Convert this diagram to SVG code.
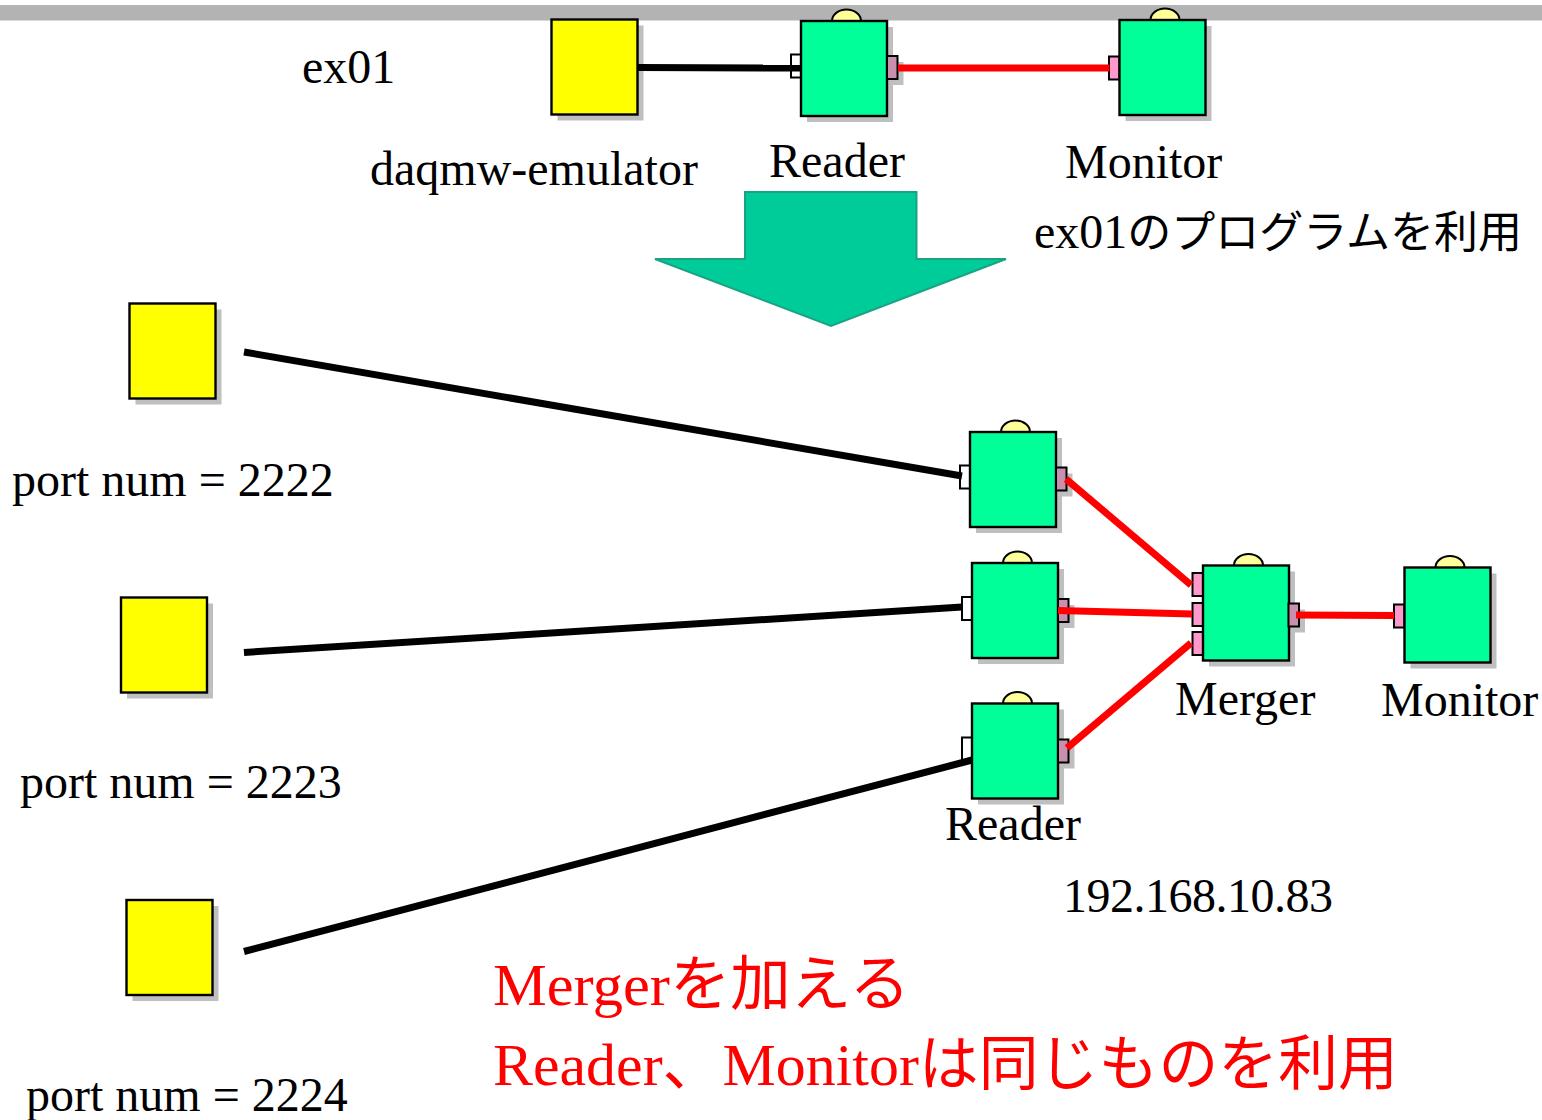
<svg xmlns="http://www.w3.org/2000/svg" xmlns:xlink="http://www.w3.org/1999/xlink" width="1542" height="1120" viewBox="0 0 1542 1120">
  <style>
    .box { stroke: #000; stroke-width: 2.4; }
    .comp { fill: #00FF99; }
    .emu { fill: #FFFF00; }
    .shadow { fill: #BFBFBF; stroke: none; }
    .lamp { fill: #FFFF99; stroke: #000; stroke-width: 2; }
    .pin { stroke: #000; stroke-width: 2; }
    .pin-white { fill: #FFFFFF; }
    .pin-in { fill: #FF99CC; }
    .pin-out { fill: #C98FAE; }
    .wire-data { stroke: #000; stroke-width: 7; fill: none; }
    .wire-link { stroke: #FF0000; stroke-width: 7; fill: none; }
    .label { font-family: "Liberation Serif", "Noto Sans CJK JP", serif; font-size: 48px; fill: #000; }
    .note { font-family: "Liberation Serif", "Noto Sans CJK JP", serif; font-size: 60px; fill: #FF0000; }
  </style>
  <defs>
    <!-- DAQ component body: shadow, status lamp, box -->
    <g id="component">
      <rect class="shadow" x="6" y="6" width="86" height="95"/>
      <ellipse class="lamp" cx="45.5" cy="0" rx="14.5" ry="11.5"/>
      <rect class="box comp" x="0" y="0" width="86" height="95"/>
    </g>
    <!-- data source body -->
    <g id="source">
      <rect class="shadow" x="6" y="6" width="86" height="95"/>
      <rect class="box emu" x="0" y="0" width="86" height="95"/>
    </g>
    <!-- ports -->
    <g id="port-white">
      <rect class="pin pin-white" x="-10" y="0" width="10" height="23"/>
    </g>
    <g id="port-in">
      <rect class="pin pin-in" x="-10.5" y="0" width="10.5" height="23"/>
    </g>
    <g id="port-out">
      <rect class="shadow" x="6" y="6" width="10.5" height="23"/>
      <rect class="pin pin-out" x="0" y="0" width="10.5" height="23"/>
    </g>
  </defs>

  <rect width="1542" height="1120" fill="#FFFFFF"/>
  <!-- top band -->
  <rect x="0" y="5" width="1542" height="15.5" fill="#B3B3B3"/>

  <!-- ex01 chain -->
  <g id="emulator-top">
    <use xlink:href="#source" x="551.5" y="19.5"/>
  </g>
  <g id="reader-top">
    <use xlink:href="#port-white" x="801" y="54.5"/>
    <use xlink:href="#component" x="801" y="21"/>
    <use xlink:href="#port-out" x="887" y="56"/>
  </g>
  <g id="monitor-top">
    <use xlink:href="#port-in" x="1119.5" y="56.5"/>
    <use xlink:href="#component" x="1119.5" y="20"/>
  </g>

  <!-- down arrow -->
  <g id="arrow">
    <polygon points="745,192 916.5,192 916.5,259 1006,259 831,326 655,259 745,259" fill="#00CC99" stroke="#1AA383" stroke-width="2"/>
  </g>

  <!-- sources -->
  <g id="source-1">
    <use xlink:href="#source" x="129.5" y="303.5"/>
  </g>
  <g id="source-2">
    <use xlink:href="#source" x="121" y="597.5"/>
  </g>
  <g id="source-3">
    <use xlink:href="#source" x="126.5" y="900"/>
  </g>

  <!-- readers -->
  <g id="reader-1">
    <use xlink:href="#port-white" x="970" y="465.5"/>
    <use xlink:href="#component" x="970" y="432"/>
    <use xlink:href="#port-out" x="1056" y="467.5"/>
  </g>
  <g id="reader-2">
    <use xlink:href="#port-white" x="972" y="597"/>
    <use xlink:href="#component" x="972" y="563"/>
    <use xlink:href="#port-out" x="1058" y="599"/>
  </g>
  <g id="reader-3">
    <use xlink:href="#port-white" x="972" y="737.5"/>
    <use xlink:href="#component" x="972" y="703.5"/>
    <use xlink:href="#port-out" x="1058" y="739.5"/>
  </g>

  <!-- merger -->
  <g id="merger">
    <use xlink:href="#port-in" x="1203" y="573"/>
    <use xlink:href="#port-in" x="1203" y="603"/>
    <use xlink:href="#port-in" x="1203" y="632"/>
    <use xlink:href="#component" x="1203" y="565.5"/>
    <use xlink:href="#port-out" x="1288.5" y="603.5"/>
  </g>

  <!-- monitor -->
  <g id="monitor">
    <use xlink:href="#port-in" x="1404.5" y="604.5"/>
    <use xlink:href="#component" x="1404.5" y="567.5"/>
  </g>

  <!-- connectors -->
  <g id="connectors">
    <line class="wire-data" x1="637" y1="67.5" x2="801" y2="68"/>
    <line class="wire-link" x1="898" y1="68" x2="1109.5" y2="68"/>
    <line class="wire-data" x1="244" y1="352" x2="962" y2="476"/>
    <line class="wire-data" x1="244" y1="652.5" x2="962" y2="607"/>
    <line class="wire-data" x1="244" y1="951.5" x2="972" y2="760"/>
    <line class="wire-link" x1="1066" y1="479" x2="1191" y2="585"/>
    <line class="wire-link" x1="1058" y1="610.5" x2="1192" y2="614"/>
    <line class="wire-link" x1="1067" y1="748" x2="1191" y2="643"/>
    <line class="wire-link" x1="1296" y1="615" x2="1394" y2="615.5"/>
  </g>

  <!-- labels -->
  <g id="labels">
    <text class="label" x="302" y="83">ex01</text>
    <text class="label" x="370" y="185">daqmw-emulator</text>
    <text class="label" x="769" y="177">Reader</text>
    <text class="label" x="1065" y="178">Monitor</text>
    <text class="label" x="1034" y="248">ex01<tspan font-size="44">のプログラムを利用</tspan></text>
    <text class="label" x="12" y="496">port num = 2222</text>
    <text class="label" x="20" y="798">port num = 2223</text>
    <text class="label" x="26" y="1111">port num = 2224</text>
    <text class="label" x="1175" y="715">Merger</text>
    <text class="label" x="1381" y="716">Monitor</text>
    <text class="label" x="945" y="840">Reader</text>
    <text class="label" x="1063" y="912" textLength="270">192.168.10.83</text>
    <text class="note" x="493" y="1005" textLength="417" lengthAdjust="spacingAndGlyphs">Mergerを加える</text>
    <text class="note" x="493" y="1085" textLength="905" lengthAdjust="spacingAndGlyphs">Reader、Monitorは同じものを利用</text>
  </g>
</svg>
